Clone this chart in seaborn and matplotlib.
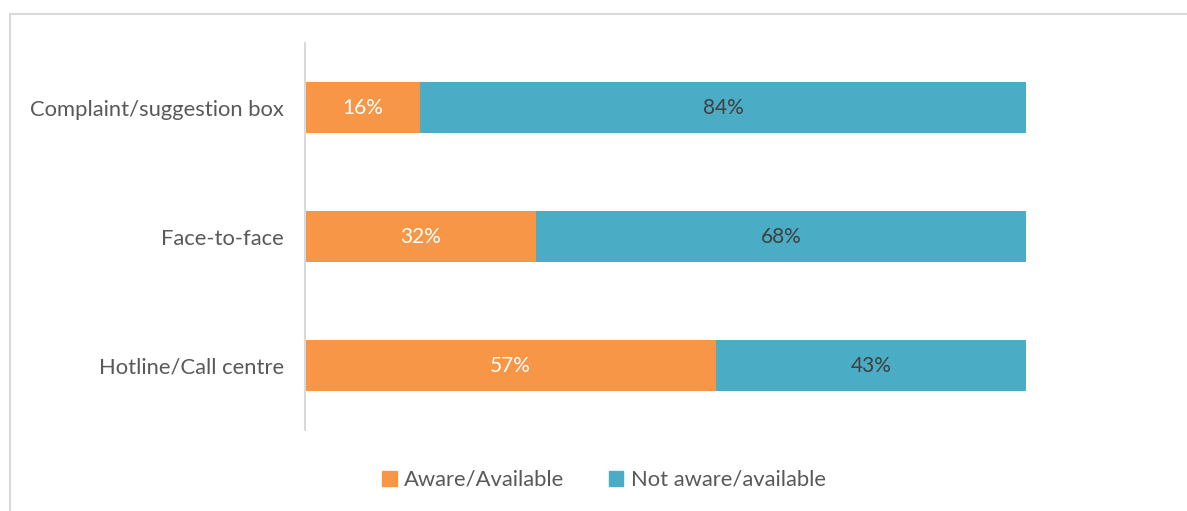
import matplotlib
matplotlib.use("Agg")
import matplotlib.pyplot as plt
import matplotlib.patches as mpatches
import seaborn as sns
import pandas as pd

categories = ["Complaint/suggestion box", "Face-to-face", "Hotline/Call centre"]
aware = [16, 32, 57]
not_aware = [84, 68, 43]
series_names = ["Aware/Available", "Not aware/available"]

ORANGE = "#F79646"
TEAL = "#4BACC6"

sns.set_theme(style="white")
plt.rcParams["font.family"] = ["Lato", "DejaVu Sans"]

W, H = 1187, 511
fig = plt.figure(figsize=(W / 100, H / 100), dpi=100)
ax = fig.add_axes([305 / W, 1 - 430 / H, (1026 - 305) / W, (430 - 43) / H])

# outer chart border
fig.patches.append(mpatches.Rectangle((10 / W, -0.1), 1.2, 1 - 14 / H + 0.1,
                                      transform=fig.transFigure, fill=False,
                                      edgecolor="#D9D9D9", linewidth=1.5))

df = pd.DataFrame({"category": categories, "aware": aware, "not_aware": not_aware})
df["total"] = df["aware"] + df["not_aware"]

sns.barplot(data=df, y="category", x="total", color=TEAL, orient="h",
            width=0.4, ax=ax, saturation=1, edgecolor="none")
sns.barplot(data=df, y="category", x="aware", color=ORANGE, orient="h",
            width=0.4, ax=ax, saturation=1, edgecolor="none")

for i, (a, n) in enumerate(zip(aware, not_aware)):
    ax.text(a / 2, i, f"{a}%", ha="center", va="center", color="white", fontsize=15)
    ax.text(a + n / 2, i, f"{n}%", ha="center", va="center", color="#404040", fontsize=15)

ax.set_xlim(0, 100)
ax.set_ylim(2.5, -0.5)
ax.set_xlabel("")
ax.set_ylabel("")
ax.set_xticks([])
ax.tick_params(axis="y", length=0, pad=15, labelsize=15.8, labelcolor="#595959")
for s in ["top", "right", "bottom"]:
    ax.spines[s].set_visible(False)
ax.spines["left"].set_color("#D9D9D9")
ax.spines["left"].set_linewidth(1.5)

handles = [mpatches.Patch(color=ORANGE, label=series_names[0]),
           mpatches.Patch(color=TEAL, label=series_names[1])]
fig.legend(handles=handles, loc="center", bbox_to_anchor=(604 / W, 1 - 480 / H),
           ncol=2, frameon=False, fontsize=15.8, labelcolor="#595959",
           handlelength=0.65, handleheight=0.65, handletextpad=0.35, columnspacing=2.0)

fig.savefig("out.png", dpi=100)
